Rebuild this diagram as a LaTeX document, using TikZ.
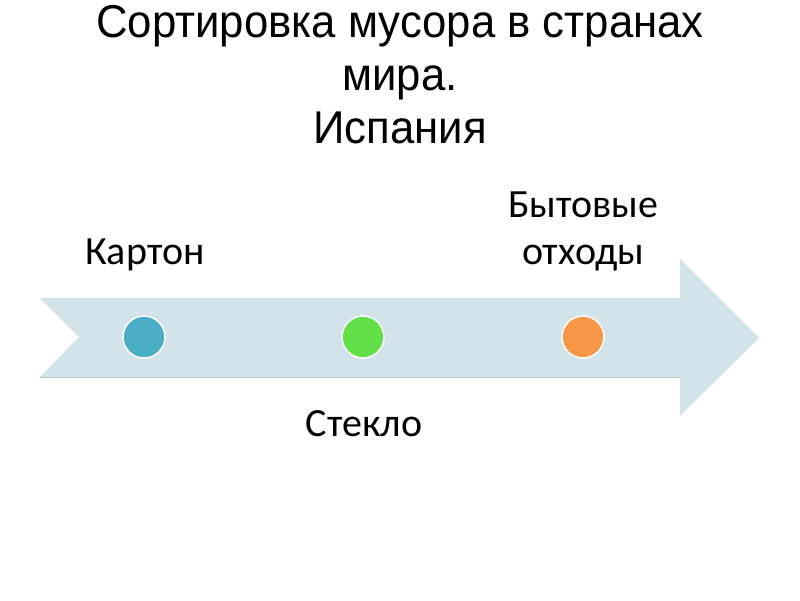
\documentclass[tikz,border=0pt]{standalone}
\usepackage{fontspec}
\setmainfont{Carlito}
\newfontfamily\titlefont[FakeStretch=0.95]{Liberation Sans}
\definecolor{arrowfill}{HTML}{D3E3EA}
\definecolor{arrowedge}{HTML}{BFCBD0}
\definecolor{dotblue}{HTML}{4BACC6}
\definecolor{dotgreen}{HTML}{62E04A}
\definecolor{dotorange}{HTML}{F79646}
\tikzset{
  dot/.style={circle, draw=white, line width=1.5pt, minimum size=42pt, inner sep=0pt},
  lbl/.style={font=\fontsize{40}{44}\selectfont, text=black, align=center, inner sep=0pt},
}
\begin{document}
\begin{tikzpicture}[x=1pt,y=-1pt]
\useasboundingbox (0,0) rectangle (800,600);
\fill[white] (0,0) rectangle (800,600);
% title
\node[font=\titlefont\fontsize{46}{53}\selectfont, align=center, inner sep=0pt, anchor=north] (title) at (400,5)
  {Сортировка мусора в странах\\мира.\\Испания};
% arrow
\fill[arrowfill] (40,298) -- (680,298) -- (680,259) -- (759,338) -- (680,416) -- (680,377) -- (40,377) -- (79,337) -- cycle;
\draw[arrowedge, line width=0.8pt] (40,377.5) -- (680,377.5);
% dots
\node[dot, fill=dotblue] (d1) at (144,337) {};
\node[dot, fill=dotgreen] (d2) at (363,337) {};
\node[dot, fill=dotorange] (d3) at (583,337) {};
% labels
\node[lbl, anchor=base] (l1) at (145,264) {Картон};
\node[lbl, anchor=base] (l2) at (364,436) {Стекло};
\node[lbl, anchor=base] (l3) at (583,217) {Бытовые};
\node[lbl, anchor=base] (l3b) at (583,264) {отходы};
\end{tikzpicture}
\end{document}
